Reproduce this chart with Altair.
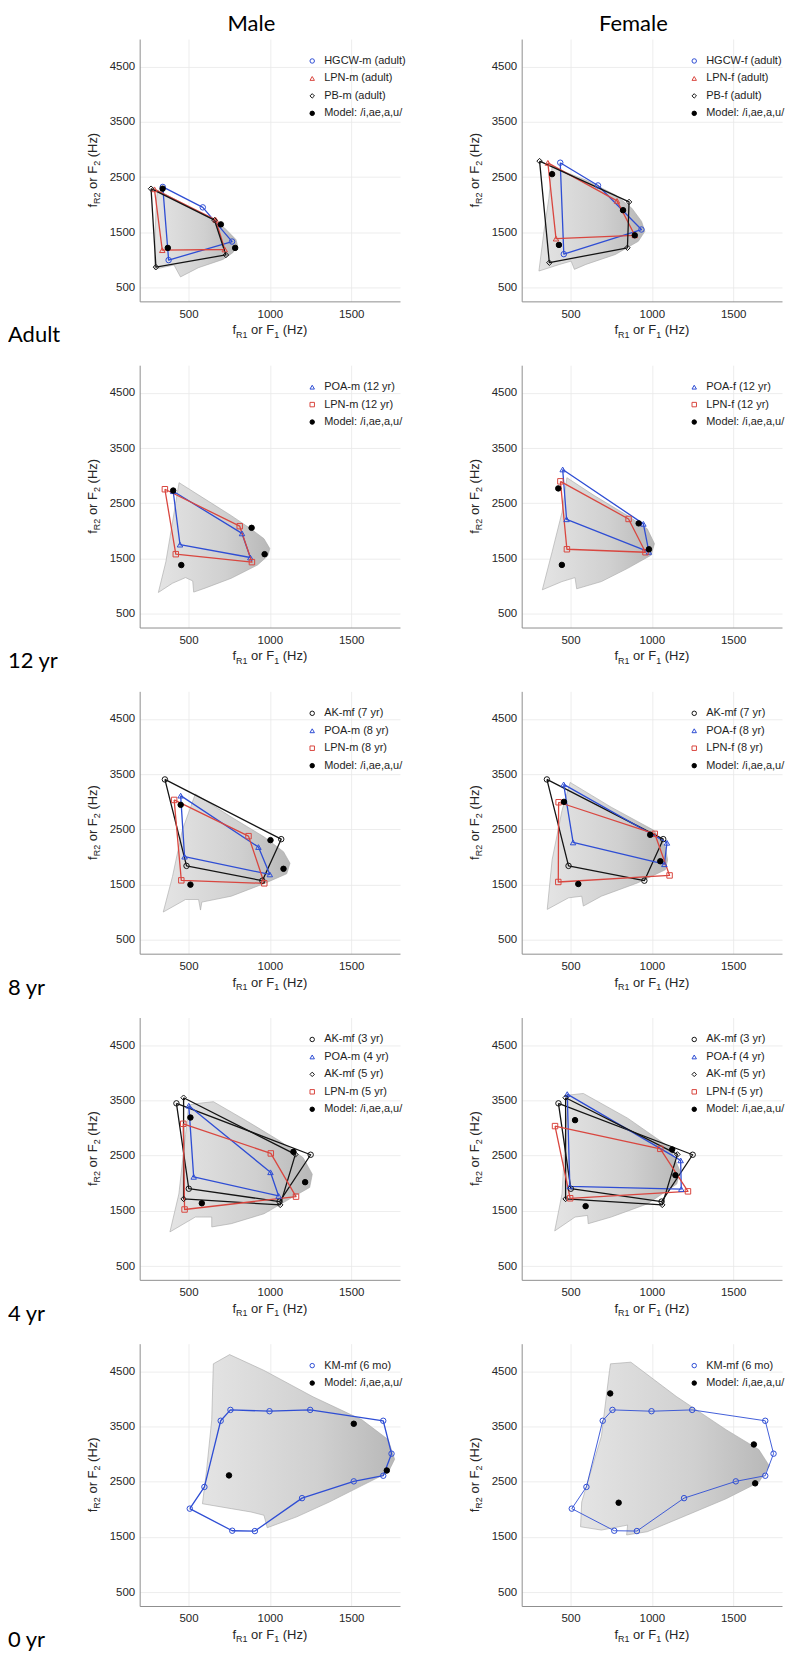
import altair as alt
import pandas as pd

# ---------------- layout / style constants ----------------
W, H = 261, 263
X_DOMAIN = [200, 1800]
Y_DOMAIN = [250, 5000]
X_TICKS = [500, 1000, 1500]
Y_TICKS = [500, 1500, 2500, 3500, 4500]
BLUE, RED, BLACK = "#2e4dd4", "#d9463f", "#141414"
MODEL_LABEL = "Model: /i,ae,a,u/"
COL_HEADERS = ["Male", "Female"]
ROW_LABELS = ["Adult", "12 yr", "8 yr", "4 yr", "0 yr"]

# ---------------- data (F1, F2 in Hz) ----------------
# Adult male
hgcw_m_f1 = [342, 588, 768, 378]
hgcw_m_f2 = [2322, 1952, 1333, 997]
lpn_m_ad_f1 = [291, 667, 723, 339]
lpn_m_ad_f2 = [2279, 1728, 1189, 1177]
pb_m_f1 = [270, 660, 730, 300]
pb_m_f2 = [2290, 1720, 1090, 870]
model_ad_m_f1 = [341, 699, 787, 373]
model_ad_m_f2 = [2291, 1644, 1218, 1218]
mesh_ad_m_f1 = [310, 652, 722, 792, 802, 772, 712, 561, 451, 411, 290, 296, 304]
mesh_ad_m_f2 = [2266, 1727, 1578, 1368, 1250, 1130, 1009, 860, 693, 909, 830, 1578, 2117]

# Adult female
hgcw_f_f1 = [437, 669, 936, 459]
hgcw_f_f2 = [2761, 2349, 1551, 1105]
lpn_f_ad_f1 = [361, 786, 895, 411]
lpn_f_ad_f2 = [2758, 2069, 1446, 1386]
pb_f_f1 = [310, 860, 850, 370]
pb_f_f2 = [2790, 2050, 1220, 950]
model_ad_f_f1 = [387, 823, 895, 429]
model_ad_f_f2 = [2554, 1901, 1446, 1272]
mesh_ad_f_f1 = [387, 595, 776, 877, 937, 957, 917, 776, 595, 524, 504, 433, 306, 337, 367]
mesh_ad_f_f2 = [2686, 2446, 2177, 1937, 1698, 1518, 1338, 1099, 919, 829, 979, 919, 799, 1518, 2117]

# 12 yr male
poa_m12_f1 = [406, 829, 880, 448]
poa_m12_f2 = [2718, 1954, 1518, 1751]
lpn_m12_f1 = [355, 815, 890, 422]
lpn_m12_f2 = [2754, 2085, 1434, 1578]
model_12_m_f1 = [406, 888, 968, 456]
model_12_m_f2 = [2730, 2055, 1578, 1381]
mesh_12_m_f1 = [442, 602, 763, 883, 964, 1000, 988, 924, 763, 602, 532, 526, 482, 402, 315, 361, 402]
mesh_12_m_f2 = [2873, 2575, 2276, 2037, 1858, 1679, 1548, 1381, 1142, 963, 891, 1094, 1154, 1052, 885, 1440, 2157]

# 12 yr female
poa_f12_f1 = [452, 948, 982, 476]
poa_f12_f2 = [3112, 2127, 1619, 2210]
lpn_f12_f1 = [438, 857, 961, 478]
lpn_f12_f2 = [2897, 2216, 1613, 1667]
model_12_f_f1 = [425, 919, 982, 447]
model_12_f_f2 = [2769, 2136, 1667, 1384]
mesh_12_f_f1 = [478, 649, 851, 972, 1016, 996, 851, 690, 538, 528, 448, 327, 387, 448]
mesh_12_f_f2 = [2963, 2634, 2276, 2037, 1769, 1560, 1321, 1082, 951, 1154, 1082, 933, 1619, 2336]

# 8 yr
ak7_f1 = [355, 1070, 954, 488]
ak7_f2 = [3405, 2324, 1572, 1840]
poa_m8_f1 = [452, 930, 1000, 476]
poa_m8_f2 = [3112, 2181, 1685, 2007]
lpn_m8_f1 = [412, 869, 966, 456]
lpn_m8_f2 = [3034, 2378, 1524, 1578]
model_8_m_f1 = [452, 1004, 1084, 512]
model_8_m_f2 = [2945, 2306, 1787, 1500]
mesh_8_m_f1 = [542, 763, 964, 1084, 1124, 1104, 964, 763, 582, 574, 562, 482, 345, 402, 462]
mesh_8_m_f2 = [3142, 2724, 2366, 2097, 1888, 1697, 1518, 1291, 1184, 1040, 1231, 1231, 1004, 1649, 2485]

poa_f8_f1 = [458, 1093, 1077, 516]
poa_f8_f2 = [3315, 2258, 1870, 2264]
lpn_f8_f1 = [427, 1018, 1109, 425]
lpn_f8_f2 = [2992, 2420, 1667, 1548]
model_8_f_f1 = [460, 990, 1052, 548]
model_8_f_f2 = [2999, 2402, 1924, 1512]
mesh_8_f_f1 = [498, 750, 1012, 1083, 1097, 1083, 911, 690, 579, 569, 488, 357, 387, 448]
mesh_8_f_f2 = [3351, 2903, 2485, 2187, 1948, 1769, 1530, 1291, 1112, 1291, 1261, 1052, 1948, 2843]

# 4 yr
ak3_f1 = [426, 1251, 1060, 502]
ak3_f2 = [3446, 2515, 1667, 1900]
ak5_f1 = [470, 1157, 1064, 470]
ak5_f2 = [3548, 2521, 1607, 1715]
poa_m4_f1 = [502, 1004, 1054, 532]
poa_m4_f2 = [3404, 2198, 1769, 2115]
lpn_m5_f1 = [468, 1006, 1161, 476]
lpn_m5_f2 = [3076, 2539, 1757, 1524]
model_4_m_f1 = [512, 1145, 1217, 582]
model_4_m_f2 = [3189, 2569, 2019, 1637]
mesh_4_m_f1 = [502, 562, 653, 863, 1064, 1205, 1261, 1245, 1104, 964, 763, 643, 643, 542, 386, 441, 482]
mesh_4_m_f2 = [3416, 3446, 3476, 3118, 2760, 2461, 2163, 1924, 1685, 1446, 1267, 1208, 1387, 1387, 1118, 1805, 2879]

poa_f4_f1 = [480, 1177, 1181, 496]
poa_f4_f2 = [3613, 2413, 1894, 1942]
lpn_f5_f1 = [405, 1052, 1222, 498]
lpn_f5_f2 = [3034, 2622, 1852, 1727]
model_4_f_f1 = [528, 1125, 1145, 593]
model_4_f_f2 = [3142, 2610, 2145, 1584]
mesh_4_f_f1 = [488, 579, 851, 1113, 1173, 1153, 972, 750, 609, 605, 528, 403, 448, 468]
mesh_4_f_f2 = [3595, 3625, 3178, 2640, 2222, 1984, 1625, 1387, 1267, 1416, 1387, 1136, 1805, 2879]

# 0 yr (6 months)
km_f1 = [508, 598, 698, 758, 998, 1248, 1697, 1748, 1697, 1516, 1198, 908, 769]
km_f2 = [2013, 2406, 3604, 3801, 3777, 3801, 3604, 3008, 2609, 2507, 2203, 1607, 1613]
model_0_m_f1 = [749, 1516, 1719]
model_0_m_f2 = [2615, 3550, 2704]
mesh_0_m_f1 = [653, 753, 964, 1265, 1566, 1727, 1767, 1727, 1566, 1365, 1165, 984, 964, 884, 763, 586, 612, 643]
mesh_0_m_f2 = [4635, 4802, 4516, 4039, 3622, 3264, 2907, 2668, 2430, 2132, 1864, 1667, 1893, 1953, 2013, 2102, 2728, 3622]
model_0_f_f1 = [744, 1627, 1635, 796]
model_0_f_f2 = [4099, 3175, 2471, 2120]
mesh_0_f_f1 = [746, 871, 1153, 1456, 1657, 1722, 1657, 1456, 1214, 972, 845, 851, 690, 562, 569, 690, 740]
mesh_0_f_f2 = [4635, 4665, 4039, 3443, 3085, 2787, 2489, 2191, 1893, 1595, 1536, 1715, 1625, 1685, 2132, 3324, 4516]

# panel definitions: (label, color, shape, f1, f2)
PANELS = [
    [  # Adult
        dict(series=[("HGCW-m (adult)", BLUE, "circle", hgcw_m_f1, hgcw_m_f2),
                     ("LPN-m (adult)", RED, "triangle-up", lpn_m_ad_f1, lpn_m_ad_f2),
                     ("PB-m (adult)", BLACK, "diamond", pb_m_f1, pb_m_f2)],
             model=(model_ad_m_f1, model_ad_m_f2), mesh=(mesh_ad_m_f1, mesh_ad_m_f2), lw=1.3),
        dict(series=[("HGCW-f (adult)", BLUE, "circle", hgcw_f_f1, hgcw_f_f2),
                     ("LPN-f (adult)", RED, "triangle-up", lpn_f_ad_f1, lpn_f_ad_f2),
                     ("PB-f (adult)", BLACK, "diamond", pb_f_f1, pb_f_f2)],
             model=(model_ad_f_f1, model_ad_f_f2), mesh=(mesh_ad_f_f1, mesh_ad_f_f2), lw=1.3),
    ],
    [  # 12 yr
        dict(series=[("POA-m (12 yr)", BLUE, "triangle-up", poa_m12_f1, poa_m12_f2),
                     ("LPN-m (12 yr)", RED, "square", lpn_m12_f1, lpn_m12_f2)],
             model=(model_12_m_f1, model_12_m_f2), mesh=(mesh_12_m_f1, mesh_12_m_f2), lw=1.3),
        dict(series=[("POA-f (12 yr)", BLUE, "triangle-up", poa_f12_f1, poa_f12_f2),
                     ("LPN-f (12 yr)", RED, "square", lpn_f12_f1, lpn_f12_f2)],
             model=(model_12_f_f1, model_12_f_f2), mesh=(mesh_12_f_f1, mesh_12_f_f2), lw=1.3),
    ],
    [  # 8 yr
        dict(series=[("AK-mf (7 yr)", BLACK, "circle", ak7_f1, ak7_f2),
                     ("POA-m (8 yr)", BLUE, "triangle-up", poa_m8_f1, poa_m8_f2),
                     ("LPN-m (8 yr)", RED, "square", lpn_m8_f1, lpn_m8_f2)],
             model=(model_8_m_f1, model_8_m_f2), mesh=(mesh_8_m_f1, mesh_8_m_f2), lw=1.3),
        dict(series=[("AK-mf (7 yr)", BLACK, "circle", ak7_f1, ak7_f2),
                     ("POA-f (8 yr)", BLUE, "triangle-up", poa_f8_f1, poa_f8_f2),
                     ("LPN-f (8 yr)", RED, "square", lpn_f8_f1, lpn_f8_f2)],
             model=(model_8_f_f1, model_8_f_f2), mesh=(mesh_8_f_f1, mesh_8_f_f2), lw=1.3),
    ],
    [  # 4 yr
        dict(series=[("AK-mf (3 yr)", BLACK, "circle", ak3_f1, ak3_f2),
                     ("POA-m (4 yr)", BLUE, "triangle-up", poa_m4_f1, poa_m4_f2),
                     ("AK-mf (5 yr)", BLACK, "diamond", ak5_f1, ak5_f2),
                     ("LPN-m (5 yr)", RED, "square", lpn_m5_f1, lpn_m5_f2)],
             model=(model_4_m_f1, model_4_m_f2), mesh=(mesh_4_m_f1, mesh_4_m_f2), lw=1.3),
        dict(series=[("AK-mf (3 yr)", BLACK, "circle", ak3_f1, ak3_f2),
                     ("POA-f (4 yr)", BLUE, "triangle-up", poa_f4_f1, poa_f4_f2),
                     ("AK-mf (5 yr)", BLACK, "diamond", ak5_f1, ak5_f2),
                     ("LPN-f (5 yr)", RED, "square", lpn_f5_f1, lpn_f5_f2)],
             model=(model_4_f_f1, model_4_f_f2), mesh=(mesh_4_f_f1, mesh_4_f_f2), lw=1.3),
    ],
    [  # 0 yr
        dict(series=[("KM-mf (6 mo)", BLUE, "circle", km_f1, km_f2)],
             model=(model_0_m_f1, model_0_m_f2), mesh=(mesh_0_m_f1, mesh_0_m_f2), lw=1.3),
        dict(series=[("KM-mf (6 mo)", BLUE, "circle", km_f1, km_f2)],
             model=(model_0_f_f1, model_0_f_f2), mesh=(mesh_0_f_f1, mesh_0_f_f2), lw=0.9),
    ],
]

# ---------------- helpers ----------------
ONE = pd.DataFrame({"k": [0]})
FONT = "Liberation Sans"
HEAD_FONT = "Lato"

AW = {'f': 278, 'R': 722, '1': 556, '2': 556, ' ': 278, 'o': 556, 'r': 333,
      'F': 611, '(': 333, 'H': 722, 'z': 500, ')': 333}


def tw(s, size):
    return sum(AW[c] for c in s) * size / 1000.0


def xenc():
    return alt.X("f1:Q", scale=alt.Scale(domain=X_DOMAIN, nice=False, zero=False),
                 axis=alt.Axis(values=X_TICKS, title=None, ticks=False, labelPadding=7,
                               grid=True, format="d"))


def yenc():
    return alt.Y("f2:Q", scale=alt.Scale(domain=Y_DOMAIN, nice=False, zero=False),
                 axis=alt.Axis(values=Y_TICKS, title=None, ticks=False, labelPadding=5,
                               grid=True, format="d"))


def closed(f1, f2):
    n = len(f1)
    return pd.DataFrame({"f1": list(f1) + [f1[0]], "f2": list(f2) + [f2[0]],
                         "o": list(range(n + 1))})


MESH_FILL = alt.LinearGradient(
    gradient="linear", x1=0, y1=0, x2=1, y2=0,
    stops=[alt.GradientStop(color="#e4e4e4", offset=0),
           alt.GradientStop(color="#d0d0d0", offset=0.6),
           alt.GradientStop(color="#b8b8b8", offset=1)])


def title_layers(pieces, x0, y0, angle=None):
    total = 0.0
    for s, sz, dy in pieces:
        total += tw(s, sz)
    if angle:
        y0 = y0 + total / 2.0
    else:
        x0 = x0 - total / 2.0
    out = []
    off = 0.0
    for s, sz, dy in pieces:
        lead = len(s) - len(s.lstrip())
        off += lead * tw(" ", sz)
        body = s.strip()
        kw = dict(text=body, font=FONT, fontSize=sz, align="left", baseline="alphabetic",
                  color="#262626", dx=off, dy=dy)
        if angle:
            kw["angle"] = angle
        out.append(alt.Chart(ONE).mark_text(**kw).encode(x=alt.value(x0), y=alt.value(y0)))
        off += tw(body, sz)
    return out


def panel(spec, header=None, rowlabel=None):
    layers = []
    mf1, mf2 = spec["mesh"]
    layers.append(alt.Chart(closed(mf1, mf2)).mark_line(
        fill=MESH_FILL, stroke="#a6a6a6", strokeWidth=0.6, strokeJoin="round"
    ).encode(x=xenc(), y=yenc(), order="o:Q"))

    for label, color, shape, f1, f2 in spec["series"]:
        layers.append(alt.Chart(closed(f1, f2)).mark_line(
            color=color, strokeWidth=spec["lw"], strokeJoin="round"
        ).encode(x=xenc(), y=yenc(), order="o:Q"))

    rows = []
    for label, color, shape, f1, f2 in spec["series"]:
        for a, b in zip(f1, f2):
            rows.append({"f1": a, "f2": b, "series": label})
    for a, b in zip(*spec["model"]):
        rows.append({"f1": a, "f2": b, "series": MODEL_LABEL})
    pts = pd.DataFrame(rows)

    domain = [s[0] for s in spec["series"]] + [MODEL_LABEL]
    strokes = [s[1] for s in spec["series"]] + ["#000000"]
    fills = ["transparent"] * len(spec["series"]) + ["#000000"]
    shapes = [s[2] for s in spec["series"]] + ["circle"]

    def leg():
        return alt.Legend(title=None, orient="none", legendX=167.5, legendY=16.5, padding=0,
                          labelFont=FONT, labelFontSize=11, labelColor="#1e1e1e",
                          symbolSize=20, symbolStrokeWidth=1, rowPadding=5.5,
                          labelOffset=6.5, labelLimit=300)

    layers.append(alt.Chart(pts).mark_point(size=30, strokeWidth=1, opacity=1).encode(
        x=xenc(), y=yenc(),
        stroke=alt.Stroke("series:N", scale=alt.Scale(domain=domain, range=strokes), legend=leg()),
        fill=alt.Fill("series:N", scale=alt.Scale(domain=domain, range=fills), legend=leg()),
        shape=alt.Shape("series:N", scale=alt.Scale(domain=domain, range=shapes), legend=leg()),
    ))

    # axis titles with subscripts
    layers += title_layers([("f", 13, 0), ("R1", 9, 3.5), (" or F", 13, 0), ("1", 9, 3.5),
                            (" (Hz)", 13, 0)], W / 2.0, H + 33)
    layers += title_layers([("f", 13, 0), ("R2", 9, 3.5), (" or F", 13, 0), ("2", 9, 3.5),
                            (" (Hz)", 13, 0)], -43, H / 2.0, angle=270)

    if header:
        layers.append(alt.Chart(ONE).mark_text(
            text=header, font=HEAD_FONT, fontSize=22, align="center", baseline="middle",
            color="#000000").encode(x=alt.value(112), y=alt.value(-15)))
    if rowlabel:
        layers.append(alt.Chart(ONE).mark_text(
            text=rowlabel, font=HEAD_FONT, fontSize=22, align="left", baseline="middle",
            color="#000000").encode(x=alt.value(-132), y=alt.value(H + 34)))

    return alt.layer(*layers).properties(width=W, height=H)


IND = dict(stroke="independent", fill="independent", shape="independent")

panels = []
for r, pair in enumerate(PANELS):
    panels.append(panel(pair[0], header=COL_HEADERS[0] if r == 0 else None, rowlabel=ROW_LABELS[r]))
    panels.append(panel(pair[1], header=COL_HEADERS[1] if r == 0 else None))

chart = (alt.concat(*panels, columns=2, spacing={"row": 64, "column": 122}, bounds="flush")
         .resolve_scale(**IND).resolve_legend(**IND)
         .properties(padding={"left": 0, "top": 3, "right": 0, "bottom": 0})
         .configure_view(stroke=None)
         .configure_axis(domainColor="#8f8f8f", domainWidth=1, gridColor="#e9e9e9",
                         gridWidth=0.8, labelFont=FONT, labelFontSize=11.5,
                         labelColor="#262626"))

chart.save("out.html", embed_options={"renderer": "svg", "actions": False})
